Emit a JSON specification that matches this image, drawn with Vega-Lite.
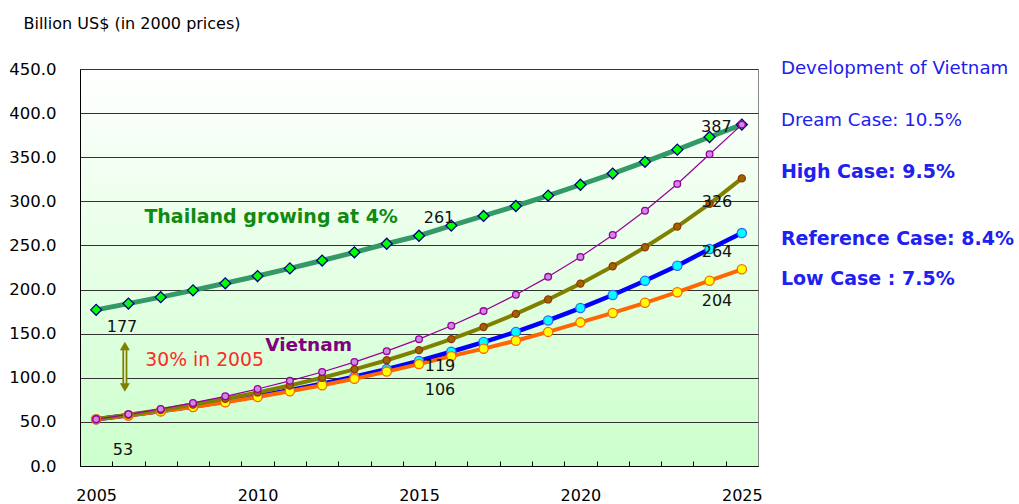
{
  "$schema": "https://vega.github.io/schema/vega-lite/v6.json",
  "width": 678,
  "height": 397,
  "autosize": {"type": "none"},
  "padding": {"left": 80, "top": 69, "right": 261, "bottom": 38},
  "background": "#ffffff",
  "config": {
    "font": "DejaVu Sans",
    "view": {
      "fill": {
        "gradient": "linear",
        "x1": 0, "y1": 0, "x2": 0, "y2": 1,
        "stops": [
          {"offset": 0, "color": "#ffffff"},
          {"offset": 1, "color": "#ccffcc"}
        ]
      },
      "stroke": "#888888",
      "strokeWidth": 1
    }
  },
  "datasets": {
    "gdp": [
      {"series": "Thailand", "year": 2005, "gdp": 177},
      {"series": "Thailand", "year": 2006, "gdp": 184.1},
      {"series": "Thailand", "year": 2007, "gdp": 191.4},
      {"series": "Thailand", "year": 2008, "gdp": 199.1},
      {"series": "Thailand", "year": 2009, "gdp": 207.1},
      {"series": "Thailand", "year": 2010, "gdp": 215.3},
      {"series": "Thailand", "year": 2011, "gdp": 224.0},
      {"series": "Thailand", "year": 2012, "gdp": 232.9},
      {"series": "Thailand", "year": 2013, "gdp": 242.2},
      {"series": "Thailand", "year": 2014, "gdp": 251.9},
      {"series": "Thailand", "year": 2015, "gdp": 261},
      {"series": "Thailand", "year": 2016, "gdp": 272.5},
      {"series": "Thailand", "year": 2017, "gdp": 283.4},
      {"series": "Thailand", "year": 2018, "gdp": 294.7},
      {"series": "Thailand", "year": 2019, "gdp": 306.5},
      {"series": "Thailand", "year": 2020, "gdp": 318.8},
      {"series": "Thailand", "year": 2021, "gdp": 331.5},
      {"series": "Thailand", "year": 2022, "gdp": 344.8},
      {"series": "Thailand", "year": 2023, "gdp": 358.6},
      {"series": "Thailand", "year": 2024, "gdp": 372.9},
      {"series": "Thailand", "year": 2025, "gdp": 387},

      {"series": "Reference", "year": 2005, "gdp": 53},
      {"series": "Reference", "year": 2006, "gdp": 57.5},
      {"series": "Reference", "year": 2007, "gdp": 62.3},
      {"series": "Reference", "year": 2008, "gdp": 67.5},
      {"series": "Reference", "year": 2009, "gdp": 73.2},
      {"series": "Reference", "year": 2010, "gdp": 79.3},
      {"series": "Reference", "year": 2011, "gdp": 86.0},
      {"series": "Reference", "year": 2012, "gdp": 93.2},
      {"series": "Reference", "year": 2013, "gdp": 101.1},
      {"series": "Reference", "year": 2014, "gdp": 109.8},
      {"series": "Reference", "year": 2015, "gdp": 119},
      {"series": "Reference", "year": 2016, "gdp": 129.5},
      {"series": "Reference", "year": 2017, "gdp": 140.5},
      {"series": "Reference", "year": 2018, "gdp": 152},
      {"series": "Reference", "year": 2019, "gdp": 165},
      {"series": "Reference", "year": 2020, "gdp": 179},
      {"series": "Reference", "year": 2021, "gdp": 193.8},
      {"series": "Reference", "year": 2022, "gdp": 210},
      {"series": "Reference", "year": 2023, "gdp": 227},
      {"series": "Reference", "year": 2024, "gdp": 246},
      {"series": "Reference", "year": 2025, "gdp": 264},

      {"series": "Low", "year": 2005, "gdp": 53},
      {"series": "Low", "year": 2006, "gdp": 57.3},
      {"series": "Low", "year": 2007, "gdp": 61.9},
      {"series": "Low", "year": 2008, "gdp": 66.8},
      {"series": "Low", "year": 2009, "gdp": 72.2},
      {"series": "Low", "year": 2010, "gdp": 78.3},
      {"series": "Low", "year": 2011, "gdp": 84.7},
      {"series": "Low", "year": 2012, "gdp": 91.5},
      {"series": "Low", "year": 2013, "gdp": 98.8},
      {"series": "Low", "year": 2014, "gdp": 107},
      {"series": "Low", "year": 2015, "gdp": 115.5},
      {"series": "Low", "year": 2016, "gdp": 124.5},
      {"series": "Low", "year": 2017, "gdp": 133},
      {"series": "Low", "year": 2018, "gdp": 142},
      {"series": "Low", "year": 2019, "gdp": 152},
      {"series": "Low", "year": 2020, "gdp": 162.8},
      {"series": "Low", "year": 2021, "gdp": 173.5},
      {"series": "Low", "year": 2022, "gdp": 185},
      {"series": "Low", "year": 2023, "gdp": 197},
      {"series": "Low", "year": 2024, "gdp": 210},
      {"series": "Low", "year": 2025, "gdp": 223},

      {"series": "High", "year": 2005, "gdp": 53},
      {"series": "High", "year": 2006, "gdp": 58.0},
      {"series": "High", "year": 2007, "gdp": 63.5},
      {"series": "High", "year": 2008, "gdp": 69.6},
      {"series": "High", "year": 2009, "gdp": 76.2},
      {"series": "High", "year": 2010, "gdp": 83.4},
      {"series": "High", "year": 2011, "gdp": 91.3},
      {"series": "High", "year": 2012, "gdp": 100.0},
      {"series": "High", "year": 2013, "gdp": 109.5},
      {"series": "High", "year": 2014, "gdp": 119.9},
      {"series": "High", "year": 2015, "gdp": 131.3},
      {"series": "High", "year": 2016, "gdp": 143.8},
      {"series": "High", "year": 2017, "gdp": 157.5},
      {"series": "High", "year": 2018, "gdp": 172.4},
      {"series": "High", "year": 2019, "gdp": 188.8},
      {"series": "High", "year": 2020, "gdp": 206.7},
      {"series": "High", "year": 2021, "gdp": 226.4},
      {"series": "High", "year": 2022, "gdp": 247.9},
      {"series": "High", "year": 2023, "gdp": 271.4},
      {"series": "High", "year": 2024, "gdp": 297.2},
      {"series": "High", "year": 2025, "gdp": 326},

      {"series": "Dream", "year": 2005, "gdp": 53},
      {"series": "Dream", "year": 2006, "gdp": 58.6},
      {"series": "Dream", "year": 2007, "gdp": 64.7},
      {"series": "Dream", "year": 2008, "gdp": 71.5},
      {"series": "Dream", "year": 2009, "gdp": 79.0},
      {"series": "Dream", "year": 2010, "gdp": 87.3},
      {"series": "Dream", "year": 2011, "gdp": 96.5},
      {"series": "Dream", "year": 2012, "gdp": 106.6},
      {"series": "Dream", "year": 2013, "gdp": 117.8},
      {"series": "Dream", "year": 2014, "gdp": 130.2},
      {"series": "Dream", "year": 2015, "gdp": 143.8},
      {"series": "Dream", "year": 2016, "gdp": 158.9},
      {"series": "Dream", "year": 2017, "gdp": 175.6},
      {"series": "Dream", "year": 2018, "gdp": 194.1},
      {"series": "Dream", "year": 2019, "gdp": 214.4},
      {"series": "Dream", "year": 2020, "gdp": 237.0},
      {"series": "Dream", "year": 2021, "gdp": 261.8},
      {"series": "Dream", "year": 2022, "gdp": 289.3},
      {"series": "Dream", "year": 2023, "gdp": 319.7},
      {"series": "Dream", "year": 2024, "gdp": 353.3},
      {"series": "Dream", "year": 2025, "gdp": 387}
    ],
    "notes": [
      {"kind": "value", "text": "177", "year": 2005.80, "value": 157.6},
      {"kind": "value", "text": "53", "year": 2005.83, "value": 18.1},
      {"kind": "value", "text": "261", "year": 2015.62, "value": 281.1},
      {"kind": "value", "text": "387", "year": 2024.21, "value": 383.7},
      {"kind": "value", "text": "326", "year": 2024.23, "value": 298.7},
      {"kind": "value", "text": "264", "year": 2024.23, "value": 242.2},
      {"kind": "value", "text": "204", "year": 2024.23, "value": 186.8},
      {"kind": "value", "text": "119", "year": 2015.65, "value": 113},
      {"kind": "value", "text": "106", "year": 2015.65, "value": 85.8},
      {"kind": "thailand", "text": "Thailand growing at 4%", "year": 2010.42, "value": 281.7},
      {"kind": "vietnam", "text": "Vietnam", "year": 2011.58, "value": 136.8},
      {"kind": "share", "text": "30% in 2005", "year": 2008.36, "value": 120.5},
      {"kind": "heading", "text": "Development of Vietnam", "year": 2026.21, "value": 449.8},
      {"kind": "heading", "text": "Dream Case: 10.5%", "year": 2026.21, "value": 391.3},
      {"kind": "case", "text": "High Case: 9.5%", "year": 2026.21, "value": 332.7},
      {"kind": "case", "text": "Reference Case: 8.4%", "year": 2026.21, "value": 257.1},
      {"kind": "case", "text": "Low Case : 7.5%", "year": 2026.21, "value": 211.7}
    ],
    "gap": [
      {"year": 2005.89, "low": 89, "high": 136}
    ]
  },
  "encoding": {
    "x": {
      "field": "year",
      "type": "quantitative",
      "scale": {"domain": [2004.5, 2025.5], "nice": false, "zero": false},
      "axis": {
        "title": null,
        "values": [2005, 2006, 2007, 2008, 2009, 2010, 2011, 2012, 2013, 2014, 2015, 2016, 2017, 2018, 2019, 2020, 2021, 2022, 2023, 2024, 2025],
        "labelExpr": "datum.value % 5 === 0 ? datum.value : ''",
        "grid": false,
        "domainColor": "#000000",
        "domainWidth": 1,
        "tickColor": "#000000",
        "tickWidth": 1,
        "tickSize": -5,
        "tickOffset": -16.143,
        "labelOffset": 16.143,
        "labelPadding": 26,
        "labelFontSize": 16,
        "labelColor": "#000000",
        "labelFlush": false,
        "labelOverlap": false,
        "zindex": 1
      }
    },
    "y": {
      "field": "gdp",
      "type": "quantitative",
      "scale": {"domain": [0, 450], "nice": false},
      "axis": {
        "title": "Billion US$ (in 2000 prices)",
        "titleAngle": 0,
        "titleAlign": "left",
        "titleBaseline": "middle",
        "titleX": -57,
        "titleY": -46,
        "titleFontSize": 16,
        "titleFontWeight": "normal",
        "titleColor": "#000000",
        "values": [0, 50, 100, 150, 200, 250, 300, 350, 400, 450],
        "format": ".1f",
        "ticks": false,
        "labelPadding": 24,
        "labelFontSize": 16.5,
        "labelColor": "#000000",
        "domainColor": "#000000",
        "domainWidth": 1,
        "grid": true,
        "gridColor": "#333333",
        "gridWidth": 1,
        "gridOpacity": 1
      }
    }
  },
  "layer": [
    {
      "data": {"name": "gdp"},
      "mark": {"type": "line", "strokeCap": "round", "strokeJoin": "round"},
      "encoding": {
        "detail": {"field": "series"},
        "color": {
          "field": "series",
          "type": "nominal",
          "scale": {
            "domain": ["Thailand", "Reference", "Low", "High", "Dream"],
            "range": ["#339966", "#0000ff", "#ff6600", "#808000", "#990099"]
          },
          "legend": null
        },
        "strokeWidth": {
          "field": "series",
          "type": "nominal",
          "scale": {
            "type": "ordinal",
            "domain": ["Thailand", "Reference", "Low", "High", "Dream"],
            "range": [5, 4.5, 4, 4, 1.2]
          },
          "legend": null
        }
      }
    },
    {
      "data": {"name": "gdp"},
      "mark": {"type": "point", "filled": true, "opacity": 1, "strokeWidth": 1.3},
      "encoding": {
        "shape": {
          "field": "series",
          "type": "nominal",
          "scale": {
            "domain": ["Thailand", "Reference", "Low", "High", "Dream"],
            "range": ["diamond", "circle", "circle", "circle", "circle"]
          },
          "legend": null
        },
        "fill": {
          "field": "series",
          "type": "nominal",
          "scale": {
            "domain": ["Thailand", "Reference", "Low", "High", "Dream"],
            "range": ["#00ff00", "#00ffff", "#ffff00", "#996600", "#cc88e6"]
          },
          "legend": null
        },
        "stroke": {
          "field": "series",
          "type": "nominal",
          "scale": {
            "domain": ["Thailand", "Reference", "Low", "High", "Dream"],
            "range": ["#000080", "#3366ff", "#ff6600", "#993300", "#990099"]
          },
          "legend": null
        },
        "size": {
          "field": "series",
          "type": "nominal",
          "scale": {
            "type": "ordinal",
            "domain": ["Thailand", "Reference", "Low", "High", "Dream"],
            "range": [120, 85, 85, 50, 45]
          },
          "legend": null
        }
      }
    },
    {
      "data": {"name": "gap"},
      "mark": {"type": "rule", "stroke": "#808000", "strokeWidth": 5},
      "encoding": {
        "y": {"field": "low", "type": "quantitative"},
        "y2": {"field": "high"}
      }
    },
    {
      "data": {"name": "gap"},
      "mark": {"type": "rule", "stroke": "#d8f5c8", "strokeWidth": 1.6},
      "encoding": {
        "y": {"field": "low", "type": "quantitative"},
        "y2": {"field": "high"}
      }
    },
    {
      "data": {"name": "gap"},
      "mark": {"type": "point", "shape": "triangle-up", "filled": true, "fill": "#808000", "opacity": 1, "size": 100},
      "encoding": {
        "y": {"field": "high", "type": "quantitative"}
      }
    },
    {
      "data": {"name": "gap"},
      "mark": {"type": "point", "shape": "triangle-down", "filled": true, "fill": "#808000", "opacity": 1, "size": 100},
      "encoding": {
        "y": {"field": "low", "type": "quantitative"}
      }
    },
    {
      "data": {"name": "notes"},
      "transform": [{"filter": "datum.kind === 'value'"}],
      "mark": {"type": "text", "fontSize": 16, "color": "#111111", "align": "center", "baseline": "middle"},
      "encoding": {
        "y": {"field": "value", "type": "quantitative"},
        "text": {"field": "text"}
      }
    },
    {
      "data": {"name": "notes"},
      "transform": [{"filter": "datum.kind === 'thailand'"}],
      "mark": {"type": "text", "fontSize": 19, "fontWeight": "bold", "color": "#108a10", "align": "center", "baseline": "middle"},
      "encoding": {
        "y": {"field": "value", "type": "quantitative"},
        "text": {"field": "text"}
      }
    },
    {
      "data": {"name": "notes"},
      "transform": [{"filter": "datum.kind === 'vietnam'"}],
      "mark": {"type": "text", "fontSize": 18.5, "fontWeight": "bold", "color": "#800080", "align": "center", "baseline": "middle"},
      "encoding": {
        "y": {"field": "value", "type": "quantitative"},
        "text": {"field": "text"}
      }
    },
    {
      "data": {"name": "notes"},
      "transform": [{"filter": "datum.kind === 'share'"}],
      "mark": {"type": "text", "fontSize": 18.8, "color": "#ff2a2a", "align": "center", "baseline": "middle"},
      "encoding": {
        "y": {"field": "value", "type": "quantitative"},
        "text": {"field": "text"}
      }
    },
    {
      "data": {"name": "notes"},
      "transform": [{"filter": "datum.kind === 'heading'"}],
      "mark": {"type": "text", "fontSize": 18.2, "color": "#2020f0", "align": "left", "baseline": "middle"},
      "encoding": {
        "y": {"field": "value", "type": "quantitative"},
        "text": {"field": "text"}
      }
    },
    {
      "data": {"name": "notes"},
      "transform": [{"filter": "datum.kind === 'case'"}],
      "mark": {"type": "text", "fontSize": 19, "fontWeight": "bold", "color": "#2020f0", "align": "left", "baseline": "middle"},
      "encoding": {
        "y": {"field": "value", "type": "quantitative"},
        "text": {"field": "text"}
      }
    }
  ]
}
